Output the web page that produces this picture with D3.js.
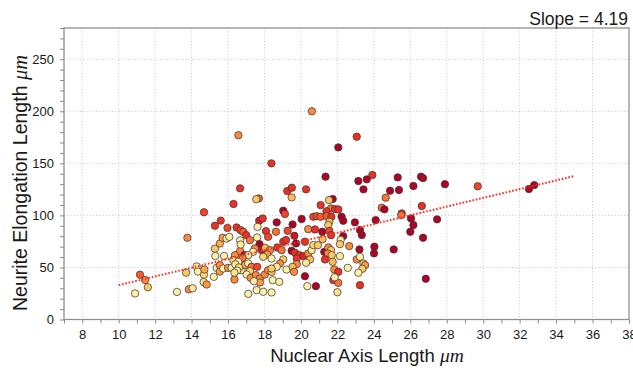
<!DOCTYPE html>
<html><head><meta charset="utf-8">
<script src="https://cdn.jsdelivr.net/npm/d3@7"></script>
<style>
body{margin:0;background:#fff}
svg{display:block}
text{font-family:"Liberation Sans",Arial,Helvetica,sans-serif;fill:#1a1a1a}
</style>
</head><body>
<svg id="chart" width="633" height="370"></svg>
<script>
// ---- data ----
const nuclearAxis = [
 10.9,11.17,11.45,11.6,13.2,13.7,13.77,13.85,14.06,14.28,14.35,14.68,14.7,14.66,14.83,14.68,
 15.22,15.28,15.3,15.55,15.7,15.28,15.6,15.38,15.55,15.55,15.74,15.92,16.07,15.78,15.97,16.3,
 16.0,16.35,16.35,16.66,16.47,16.69,16.84,17.0,17.2,16.66,16.66,16.9,16.57,17.71,17.9,17.62,
 18.08,18.2,16.69,17.6,17.73,17.86,17.47,17.38,18.04,18.3,18.15,17.93,17.11,16.8,16.38,16.29,
 16.47,16.2,16.56,16.74,16.93,17.11,17.29,17.2,17.6,17.02,17.24,17.53,17.75,17.75,18.02,18.2,
 18.39,17.42,17.57,17.11,17.93,18.39,17.69,17.55,18.38,16.4,16.6,16.5,16.35,
 21.35,19.25,19.5,20.28,19.49,21.74,21.54,19.03,19.12,21.08,21.65,21.87,22.05,21.4,20.04,20.68,
 20.86,21.08,21.41,21.67,21.56,21.5,22.23,22.32,22.96,18.67,19.54,18.63,19.27,19.64,20.4,20.77,
 21.17,21.56,21.65,22.32,19.03,19.18,19.73,20.22,21.19,22.18,22.14,22.65,18.7,18.94,19.49,19.67,
 19.91,20.13,20.4,20.59,20.68,20.93,21.28,21.5,21.65,21.48,21.69,21.32,22.14,21.74,20.5,20.28,
 19.77,19.77,19.03,18.85,18.67,18.39,18.39,19.21,19.54,19.62,20.22,21.83,22.05,22.57,21.78,22.05,
 21.85,20.35,20.82,22.0,18.45,18.81,20.6,22.05,23.06,
 23.92,23.15,23.61,23.43,25.31,26.59,26.7,26.17,24.89,25.38,27.9,24.65,24.43,24.58,26.63,25.53,
 25.5,24.1,26.04,26.17,26.0,26.7,27.47,23.24,23.34,23.21,24.03,24.01,25.09,23.06,23.24,23.43,
 23.52,23.37,23.15,23.24,26.85,29.7,32.51,32.8
];
const neuriteLength = [
 25,43,38,31,26.5,45,78.5,29,30,51,46,43,48,36,33.6,103,
 41,68,61,73,78.5,90,95,49.6,46,52.2,49,77.8,79.4,61,88,111,
 49.6,38.4,58.5,126,88.4,85.8,84.2,81,76.2,76,65.7,62,177,94.8,97,89,
 84.9,79.4,72,78.8,72.4,66.6,68.2,65,68.8,66.6,62.5,60.2,61.8,59.2,61.8,57,
 52.2,49.6,55.4,47.4,52.2,53.8,50.6,46.4,50.6,43.2,40,42.6,39.4,35.5,43.2,47.4,
 45.8,36.8,28.2,24.6,26.6,26,116.3,115.6,150,53,50,47,45,
 137.2,123.4,126.6,125,117.3,115.7,114.7,104.5,101.3,109.9,106.7,106,105.7,104,96.5,98.7,
 99.3,98.7,99.3,98.7,93.9,90.7,98.7,94.8,93.3,93.3,91.3,84.3,85.2,80.4,86.8,86.5,
 84.3,85.2,81,80.1,74.7,76.3,73.1,74.7,77.2,76.3,72.4,70.5,69.2,66.6,66,64.1,
 61.8,60.9,63.4,66.6,71.5,71.4,65,69.2,66.6,63.4,61.8,57.7,60.9,55.4,57.7,54.5,
 58.6,53.2,57.7,53.8,50.6,58.6,49,48,50.6,45.8,41.6,48,45.8,49.6,37.8,35.2,
 40.5,32,32,26.2,37.8,36.2,200,165.3,175.6,
 138.8,133,134.6,125,136.5,137.2,135.8,128.2,123.7,124.4,130,117,107.4,105.8,109,101.9,
 100.3,95.5,97.1,90.7,84.3,78.5,96.2,85.9,81.1,67.3,69.9,63.5,67.3,57.7,60.2,53.8,
 52.2,48.7,44.9,33,39.1,128,125.3,129.1
];
const shade = [
 .1,.6,.5,.3,.1,.3,.5,.5,.15,.15,.1,.25,.4,.2,.45,.65,
 .1,.3,.1,.4,.45,.7,.7,.1,.45,.5,.1,.1,.1,.1,.65,.7,
 .5,.5,.8,.7,.7,.65,.6,.7,.55,.1,.5,.8,.5,.75,.7,.1,
 .7,.65,.15,.1,.9,.8,.5,.1,.35,.5,.45,.25,.15,.55,.5,.25,
 .2,.1,.1,.2,.45,.1,.55,.25,.65,.1,.5,.5,.5,.45,.5,.5,
 .35,.1,.1,.1,.1,.1,.6,.3,.7,.15,.2,.15,.2,
 .9,.7,.7,.7,.35,.9,.3,.9,.65,.7,.55,.7,.7,.7,.9,.65,
 .65,.6,.6,.7,.35,.3,.9,.9,.9,.9,.9,.55,.65,.8,.5,.7,
 .9,.65,.7,.9,.7,.7,.9,.7,.35,.1,.3,.5,.7,.55,.9,.7,
 .7,.75,.5,.15,.25,.3,.9,.5,.3,.5,.3,.7,.15,.35,.35,.15,
 .7,.5,.3,.5,.15,.1,.3,.1,.35,.5,.9,.5,.7,.1,.7,.55,
 .1,.1,.9,.2,.1,.1,.5,.9,.7,
 .7,.9,.9,.9,.9,.9,.9,.9,.9,.9,.9,.55,.55,.9,.7,.7,
 .55,.9,.9,.9,.9,.9,.9,.9,.9,.9,.9,.9,.9,.5,.1,.3,
 .45,.3,.1,.7,.9,.65,.9,.9
];
const fitX = [10, 35];
const fitY = [33, 137.8];
const xDomain = [7, 38];
const yDomain = [0, 280];
const xTickValues = d3.range(7, 39, 1);
const xLabelValues = [8,10,12,14,16,18,20,22,24,26,28,30,32,34,36,38];
const yTickValues = d3.range(0, 281, 10);
const yLabelValues = [0,50,100,150,200,250];
const titleText = "Slope = 4.19";
const xTitle = "Nuclear Axis Length ";
const yTitle = "Neurite Elongation Length ";
const unitText = "μm";

// ---- drawing ----
const plot = {left: 64, right: 629, top: 28, bottom: 319.5};
const svg = d3.select("#chart");
const x = d3.scaleLinear().domain(xDomain).range([plot.left, plot.right]);
const y = d3.scaleLinear().domain(yDomain).range([plot.bottom, plot.top]);

// grid
const grid = svg.append("g");
grid.selectAll("line.gx").data(xLabelValues.filter(v => v < xDomain[1])).join("line")
  .attr("x1", d => x(d)).attr("x2", d => x(d))
  .attr("y1", plot.top).attr("y2", plot.bottom)
  .attr("stroke", "#c4c4c4").attr("stroke-width", 1).attr("stroke-dasharray", "1,2.2");
grid.selectAll("line.gy").data(yLabelValues.filter(v => v > 0)).join("line")
  .attr("y1", d => y(d)).attr("y2", d => y(d))
  .attr("x1", plot.left).attr("x2", plot.right)
  .attr("stroke", "#c4c4c4").attr("stroke-width", 1).attr("stroke-dasharray", "1,2.2");

// points
const pts = nuclearAxis.map((v, i) => ({x: v, y: neuriteLength[i], c: shade[i]}));
svg.append("g").selectAll("circle").data(pts).join("circle")
  .attr("cx", d => x(d.x)).attr("cy", d => y(d.y)).attr("r", 3.7)
  .attr("fill", d => d3.interpolateYlOrRd(d.c))
  .attr("stroke", "#383838").attr("stroke-opacity", 0.75).attr("stroke-width", 1);

// fit line
svg.append("line")
  .attr("x1", x(fitX[0])).attr("y1", y(fitY[0]))
  .attr("x2", x(fitX[1])).attr("y2", y(fitY[1]))
  .attr("stroke", "#ff2a1a").attr("stroke-width", 2).attr("stroke-dasharray", "1.6,1.8");

// axes
const xAxis = d3.axisBottom(x).tickValues(xTickValues).tickSize(4).tickPadding(6)
  .tickFormat(d => xLabelValues.includes(d) ? d : "");
const yAxis = d3.axisLeft(y).tickValues(yTickValues).tickSize(4).tickPadding(6)
  .tickFormat(d => yLabelValues.includes(d) ? d : "");
const gx = svg.append("g").attr("transform", `translate(0,${plot.bottom})`).call(xAxis);
const gy = svg.append("g").attr("transform", `translate(${plot.left},0)`).call(yAxis);
[gx, gy].forEach(g => {
  g.select(".domain").remove();
  g.selectAll(".tick line").attr("stroke", "#8a8a8a").attr("stroke-width", 1);
  g.selectAll(".tick text").attr("font-size", 13).attr("fill", "#1a1a1a")
    .attr("font-family", "'Liberation Sans', Arial, sans-serif");
});

// frame
svg.append("rect").attr("x", plot.left).attr("y", plot.top)
  .attr("width", plot.right - plot.left).attr("height", plot.bottom - plot.top)
  .attr("fill", "none").attr("stroke", "#8f8f8f").attr("stroke-width", 1.3);

// title
svg.append("text").attr("x", 628).attr("y", 25).attr("text-anchor", "end")
  .attr("font-size", 17.5).text(titleText);

// axis titles
const xt = svg.append("text").attr("x", 367).attr("y", 362)
  .attr("text-anchor", "middle").attr("font-size", 18.5);
xt.append("tspan").text(xTitle);
xt.append("tspan").attr("font-family", "'Liberation Serif','DejaVu Serif',serif")
  .attr("font-style", "italic").attr("font-size", 19.5).text(unitText);

const yt = svg.append("text")
  .attr("transform", `translate(27,183) rotate(-90)`)
  .attr("text-anchor", "middle").attr("font-size", 19.5);
yt.append("tspan").text(yTitle);
yt.append("tspan").attr("font-family", "'Liberation Serif','DejaVu Serif',serif")
  .attr("font-style", "italic").attr("font-size", 20.5).text(unitText);
</script>
</body></html>
